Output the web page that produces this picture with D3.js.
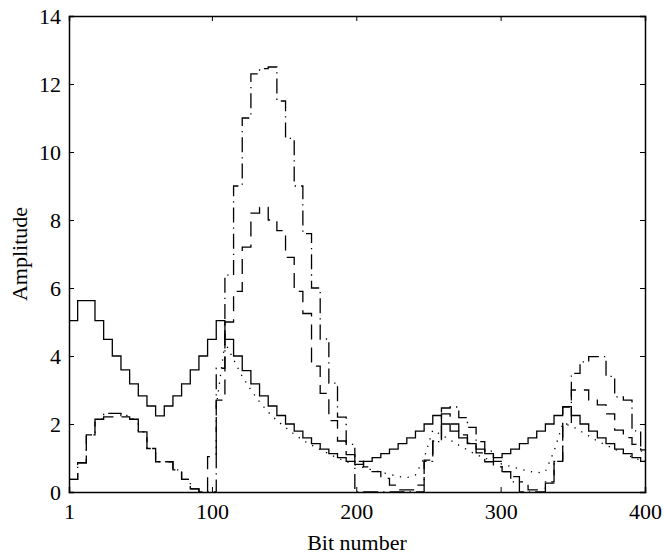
<!DOCTYPE html>
<html>
<head>
<meta charset="utf-8">
<script src="https://cdn.jsdelivr.net/npm/d3@7"></script>
<style>
  body { margin: 0; background: #fff; }
  text { font-family: "Liberation Serif", "Times New Roman", serif; }
</style>
</head>
<body>
<div id="chart"></div>
<script>
// step starts (bit number), every series is held constant until the next one
const bits = [1, 7, 13, 19, 25, 31, 37, 43, 49, 55, 61, 67, 73, 79, 85, 91, 97, 103, 109, 115,
    121, 127, 133, 139, 145, 151, 157, 163, 169, 175, 181, 187, 193, 199, 205, 211, 217, 223, 229, 235,
    241, 247, 253, 259, 265, 271, 277, 283, 289, 295, 301, 307, 313, 319, 325, 331, 337, 343, 349, 355,
    361, 367, 373, 379, 385, 391, 397];

const solid = [5.04, 5.63, 5.63, 5.04, 4.49, 4.0, 3.59, 3.18, 2.83, 2.53, 2.24, 2.53, 2.83, 3.18, 3.59, 4.0, 4.49, 5.04, 4.49, 4.0,
    3.57, 3.18, 2.83, 2.53, 2.25, 2.0, 1.79, 1.59, 1.42, 1.26, 1.13, 1.01, 0.9, 0.81, 0.9, 1.01, 1.13, 1.26, 1.42, 1.59,
    1.79, 2.0, 2.25, 2.0, 1.79, 1.59, 1.42, 1.26, 1.13, 1.01, 1.13, 1.26, 1.42, 1.59, 1.79, 2.0, 2.25, 2.51, 2.25, 2.0,
    1.79, 1.59, 1.42, 1.26, 1.13, 1.01, 0.9];

const dashed = [0.37, 0.86, 1.68, 2.14, 2.21, 2.21, 2.21, 2.14, 1.77, 1.28, 0.89, 0.89, 0.65, 0.37, 0.09, 0, 1.04, 2.7, 5.0, 5.9,
    7.2, 8.2, 8.37, 8.0, 7.69, 6.9, 5.9, 5.25, 3.7, 2.9, 2.1, 1.5, 1.1, 0.9, 0.74, 0.6, 0.4, 0.2, 0.06, 0.06,
    0.2, 0.94, 1.5, 2.3, 2.0, 1.68, 1.44, 1.15, 0.89, 0.74, 0.6, 0.45, 0.3, 0.06, 0.06, 0.26, 0.9, 2.5, 3.0, 3.0,
    2.7, 2.56, 2.3, 1.82, 1.6, 1.4, 1.24];

const dashDot = [0.37, 0.86, 1.68, 2.14, 2.31, 2.31, 2.25, 2.14, 1.77, 1.28, 0.89, 0.89, 0.65, 0.37, 0.09, 0, 0, 3.64, 6.38, 9.0,
    11.0, 12.3, 12.45, 12.5, 11.5, 10.4, 9.0, 7.6, 6.0, 4.5, 3.2, 2.2, 1.4, 0, 0, 0, 0, 0, 0, 0,
    0, 0.9, 1.48, 2.47, 2.5, 2.19, 1.9, 1.48, 1.2, 0.9, 0.6, 0.3, 0, 0, 0, 0.3, 0.9, 2.0, 3.49, 3.83,
    3.98, 3.98, 3.4, 2.8, 2.7, 1.8, 1.2];

// dotted curve only starts at the second burst (null = not drawn)
const dotted = [null, null, null, null, null, null, null, null, null, null, null, null, null, null, null, null, null, 2.5, 4.4, 3.9,
    3.4, 3.0, 2.65, 2.35, 2.1, 1.9, 1.7, 1.52, 1.38, 1.25, 1.12, 1.0, 0.9, 0.8, 0.72, 0.65, 0.58, 0.52, 0.46, 0.42,
    0.5, 1.0, 1.82, 1.68, 1.53, 1.38, 1.24, 1.1, 1.0, 0.9, 0.82, 0.75, 0.68, 0.62, 0.56, 0.6, 1.2, 2.0, 1.95, 1.8,
    1.65, 1.5, 1.38, 1.26, 1.14, 1.03, 0.93];

const xTicks = [1, 100, 200, 300, 400];
const yTicks = [0, 2, 4, 6, 8, 10, 12, 14];

const margin = { top: 16, right: 19, bottom: 64, left: 69 },
    width = 664 - margin.left - margin.right,
    height = 556 - margin.top - margin.bottom;

const svg = d3.select("#chart")
    .append("svg")
    .attr("width", 664)
    .attr("height", 556)
    .append("g")
    .attr("transform", `translate(${margin.left},${margin.top})`);

const x = d3.scaleLinear().domain([1, 400]).range([0, width]);
const y = d3.scaleLinear().domain([0, 14]).range([height, 0]);

svg.append("clipPath").attr("id", "clip")
    .append("rect").attr("width", width).attr("height", height);

const stepLine = d3.line()
    .defined(d => d[1] != null)
    .x(d => x(d[0]))
    .y(d => y(d[1]))
    .curve(d3.curveStepAfter);

const smoothLine = d3.line()
    .defined(d => d[1] != null)
    .x(d => x(d[0]))
    .y(d => y(d[1]));

function pts(vals) {
    const p = bits.map((b, i) => [b, vals[i]]);
    p.push([400, vals[vals.length - 1]]);
    return p;
}

const series = [
    { vals: dotted, dash: "1.3,6.5", gen: smoothLine },
    { vals: dashDot, dash: "15,5,1.3,5", gen: stepLine },
    { vals: dashed, dash: "15,8", gen: stepLine },
    { vals: solid, dash: null, gen: stepLine }
];

series.forEach(s => {
    svg.append("path")
        .datum(pts(s.vals))
        .attr("clip-path", "url(#clip)")
        .attr("fill", "none")
        .attr("stroke", "#000")
        .attr("stroke-width", 1.3)
        .attr("stroke-dasharray", s.dash)
        .attr("d", s.gen);
});

// axes: box with inward ticks on all four sides
const fontSize = 22;

svg.append("g")
    .attr("transform", `translate(0,${height})`)
    .call(d3.axisBottom(x).tickValues(xTicks).tickSize(-5).tickPadding(11))
    .call(g => g.selectAll("text").attr("font-size", fontSize).attr("fill", "#000"));

svg.append("g")
    .call(d3.axisTop(x).tickValues(xTicks).tickSize(-5).tickFormat(""));

svg.append("g")
    .call(d3.axisLeft(y).tickValues(yTicks).tickSize(-5).tickPadding(8))
    .call(g => g.selectAll("text").attr("font-size", fontSize).attr("fill", "#000"));

svg.append("g")
    .attr("transform", `translate(${width},0)`)
    .call(d3.axisRight(y).tickValues(yTicks).tickSize(-5).tickFormat(""));

svg.selectAll(".domain").attr("stroke", "#000").attr("stroke-width", 1.5);
svg.selectAll(".tick line").attr("stroke", "#000").attr("stroke-width", 1);

svg.append("text")
    .attr("x", width / 2)
    .attr("y", height + 58)
    .attr("text-anchor", "middle")
    .attr("font-size", fontSize)
    .text("Bit number");

svg.append("text")
    .attr("transform", `translate(${27 - margin.left},${height / 2}) rotate(-90)`)
    .attr("text-anchor", "middle")
    .attr("font-size", fontSize)
    .text("Amplitude");
</script>
</body>
</html>
